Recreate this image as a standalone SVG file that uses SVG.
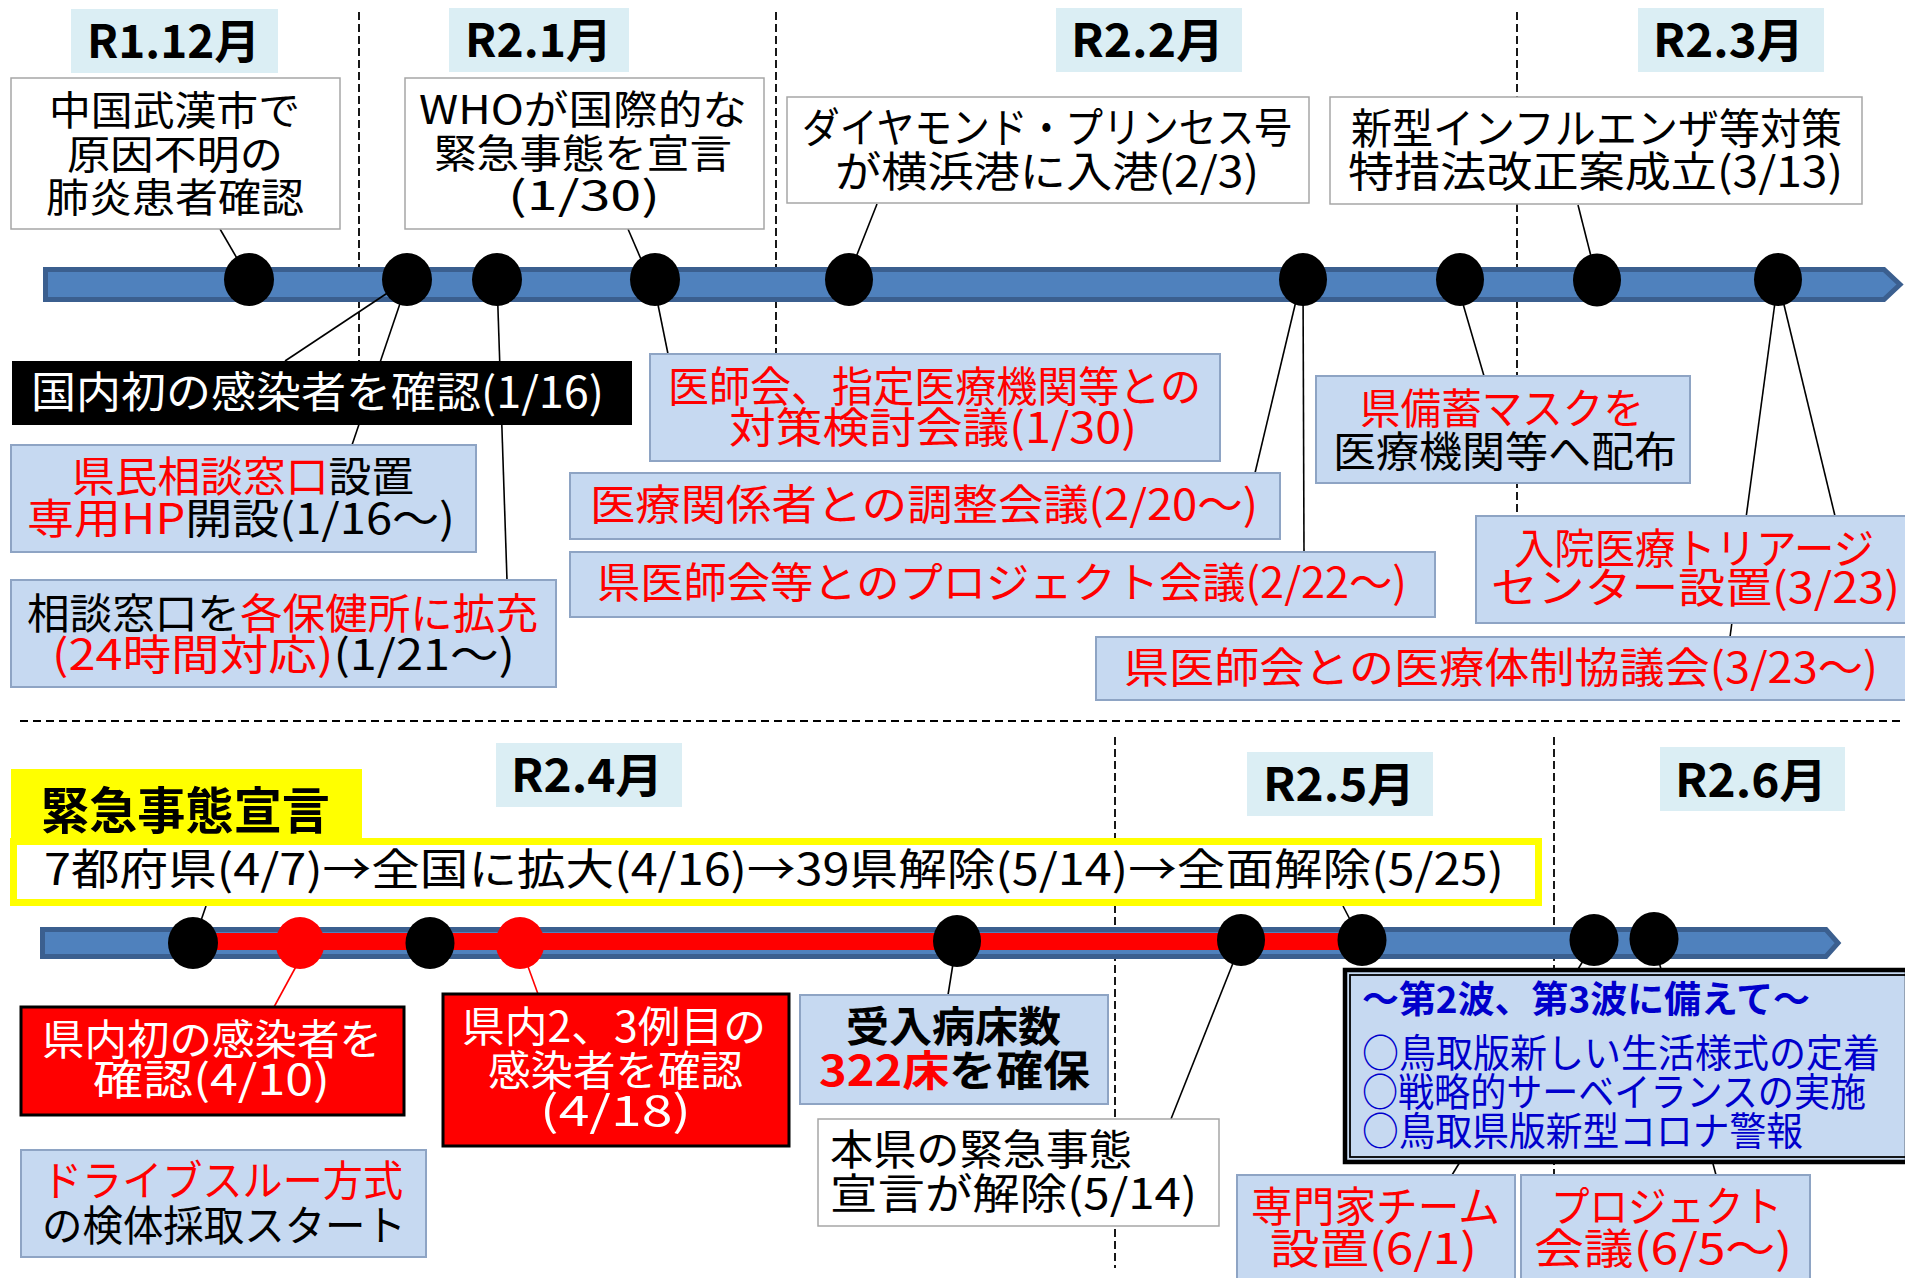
<svg xmlns="http://www.w3.org/2000/svg" width="1905" height="1278" viewBox="0 0 1905 1278">
<style>
text{font-family:"Noto Sans CJK JP","Noto Sans",sans-serif;font-size:42px;fill:#000}
.t40{font-size:40px}
.b{font-weight:bold}
.mon{font-size:46px;font-weight:bold}
.r{fill:#FF0000}
.w{fill:#FFFFFF}
.bl{fill:#0000CC}
.mbg{fill:#DBEEF4}
.wbox{fill:#FFFFFF;stroke:#A6A6A6;stroke-width:1.5}
.lbox{fill:#C6D9F1;stroke:#8EA4C4;stroke-width:2}
.rbox{fill:#FF0000;stroke:#000;stroke-width:3}
.dash{stroke:#000;stroke-width:1.8;stroke-dasharray:8 4;fill:none}
.con{stroke:#000;stroke-width:1.6;fill:none}
.rcon{stroke:#FF0000;stroke-width:1.6;fill:none}
.bar{fill:#4F81BD;stroke:#3B5F8F;stroke-width:5;stroke-linejoin:miter}
.dot{fill:#000}
.rdot{fill:#FF0000}
</style>

<g id="guides">
<line class="dash" x1="359" y1="12" x2="359" y2="361"/>
<line class="dash" x1="776" y1="12" x2="776" y2="354"/>
<line class="dash" x1="1517" y1="12" x2="1517" y2="520"/>
<line class="dash" x1="20" y1="721" x2="1905" y2="721" style="stroke-dasharray:8 5"/>
<line class="dash" x1="1115" y1="737" x2="1115" y2="1268"/>
<line class="dash" x1="1554" y1="737" x2="1554" y2="1278"/>
</g>

<g id="months">
<rect class="mbg" x="71" y="9" width="207" height="64"/>
<text class="mon" x="87" y="58" textLength="173" lengthAdjust="spacingAndGlyphs">R1.12月</text>
<rect class="mbg" x="449" y="8" width="180" height="64"/>
<text class="mon" x="465" y="57" textLength="147" lengthAdjust="spacingAndGlyphs">R2.1月</text>
<rect class="mbg" x="1056" y="8" width="186" height="64"/>
<text class="mon" x="1071" y="57" textLength="153" lengthAdjust="spacingAndGlyphs">R2.2月</text>
<rect class="mbg" x="1638" y="8" width="186" height="64"/>
<text class="mon" x="1653" y="57" textLength="151" lengthAdjust="spacingAndGlyphs">R2.3月</text>
<rect class="mbg" x="496" y="743" width="186" height="64"/>
<text class="mon" x="511" y="792" textLength="152" lengthAdjust="spacingAndGlyphs">R2.4月</text>
<rect class="mbg" x="1247" y="752" width="186" height="64"/>
<text class="mon" x="1263" y="801" textLength="152" lengthAdjust="spacingAndGlyphs">R2.5月</text>
<rect class="mbg" x="1660" y="747" width="185" height="64"/>
<text class="mon" x="1675" y="797" textLength="152" lengthAdjust="spacingAndGlyphs">R2.6月</text>
</g>

<g id="timeline-top">
<polygon class="bar" points="45.5,269.5 1884,269.5 1900,284.5 1884,299.5 45.5,299.5"/>
</g>
<g id="timeline-bottom">
<polygon class="bar" points="42.5,929.5 1826,929.5 1838,943 1826,956.5 42.5,956.5"/>
<rect x="194" y="933" width="1168" height="17" fill="#FF0000"/>
</g>

<g id="connectors">
<line class="con" x1="220" y1="229" x2="249" y2="279"/>
<line class="con" x1="628" y1="229" x2="650" y2="280"/>
<line class="con" x1="407" y1="280" x2="285" y2="361"/>
<line class="con" x1="408" y1="280" x2="352" y2="445"/>
<line class="con" x1="497" y1="280" x2="507" y2="580"/>
<line class="con" x1="653" y1="280" x2="668" y2="354"/>
<line class="con" x1="877" y1="204" x2="847" y2="280"/>
<line class="con" x1="1301" y1="280" x2="1255" y2="473"/>
<line class="con" x1="1303" y1="280" x2="1304" y2="552"/>
<line class="con" x1="1456" y1="280" x2="1484" y2="376"/>
<line class="con" x1="1578" y1="205" x2="1597" y2="280"/>
<line class="con" x1="1778" y1="280" x2="1730" y2="637"/>
<line class="con" x1="1778" y1="280" x2="1835" y2="516"/>
<line class="con" x1="196" y1="935" x2="206" y2="906"/>
<line class="rcon" x1="305" y1="950" x2="274" y2="1007"/>
<line class="rcon" x1="522" y1="950" x2="538" y2="994"/>
<line class="con" x1="956" y1="945" x2="948" y2="995"/>
<line class="con" x1="1241" y1="943" x2="1171" y2="1119"/>
<line class="con" x1="1358" y1="935" x2="1343" y2="906"/>
<line class="con" x1="1594" y1="943" x2="1452" y2="1175"/>
<line class="con" x1="1654" y1="943" x2="1716" y2="1175"/>
</g>

<g id="dots">
<ellipse class="dot" cx="249" cy="279.5" rx="25" ry="26.5"/>
<ellipse class="dot" cx="407" cy="279.5" rx="25" ry="26.5"/>
<ellipse class="dot" cx="497" cy="279.5" rx="25" ry="26.5"/>
<ellipse class="dot" cx="655" cy="279.5" rx="25" ry="26.5"/>
<ellipse class="dot" cx="849" cy="279.5" rx="24" ry="26.5"/>
<ellipse class="dot" cx="1303" cy="279.5" rx="24" ry="26.5"/>
<ellipse class="dot" cx="1460" cy="279.5" rx="24" ry="26.5"/>
<ellipse class="dot" cx="1597" cy="280" rx="24" ry="26.5"/>
<ellipse class="dot" cx="1778" cy="279.5" rx="24" ry="26.5"/>
<ellipse class="dot" cx="193" cy="943" rx="25" ry="26"/>
<ellipse class="rdot" cx="300" cy="943" rx="24.5" ry="26"/>
<ellipse class="dot" cx="430" cy="943" rx="24.5" ry="26"/>
<ellipse class="rdot" cx="520" cy="943" rx="24.5" ry="26"/>
<ellipse class="dot" cx="957" cy="941" rx="24" ry="26"/>
<ellipse class="dot" cx="1241" cy="940" rx="24" ry="26"/>
<ellipse class="dot" cx="1362" cy="940" rx="24.5" ry="26"/>
<ellipse class="dot" cx="1594" cy="940" rx="24.5" ry="26"/>
<ellipse class="dot" cx="1654" cy="939" rx="24.5" ry="27"/>
</g>

<g id="n-wuhan">
<rect class="wbox" x="11" y="78" width="329" height="151"/>
<text class="t40" x="49" y="125" textLength="251" lengthAdjust="spacingAndGlyphs">中国武漢市で</text>
<text class="t40" x="67" y="169" textLength="216" lengthAdjust="spacingAndGlyphs">原因不明の</text>
<text class="t40" x="46" y="212" textLength="258" lengthAdjust="spacingAndGlyphs">肺炎患者確認</text>
</g>
<g id="n-who">
<rect class="wbox" x="405" y="78" width="359" height="151"/>
<text class="t40" x="419" y="124" textLength="328" lengthAdjust="spacingAndGlyphs">WHOが国際的な</text>
<text class="t40" x="434" y="168" textLength="298" lengthAdjust="spacingAndGlyphs">緊急事態を宣言</text>
<text class="t40" x="508" y="210" textLength="152" lengthAdjust="spacingAndGlyphs">(1/30)</text>
</g>
<g id="n-diamond">
<rect class="wbox" x="787" y="97" width="522" height="106"/>
<text x="802" y="143" textLength="490" lengthAdjust="spacingAndGlyphs">ダイヤモンド・プリンセス号</text>
<text x="835" y="187" textLength="424" lengthAdjust="spacingAndGlyphs">が横浜港に入港(2/3)</text>
</g>
<g id="n-law">
<rect class="wbox" x="1330" y="97" width="532" height="107"/>
<text x="1351" y="144" textLength="491" lengthAdjust="spacingAndGlyphs">新型インフルエンザ等対策</text>
<text x="1348" y="187" textLength="495" lengthAdjust="spacingAndGlyphs">特措法改正案成立(3/13)</text>
</g>

<g id="n-first-domestic">
<rect x="12" y="361" width="620" height="64" fill="#000"/>
<text class="w" x="31" y="408" style="font-size:43px" textLength="573" lengthAdjust="spacingAndGlyphs">国内初の感染者を確認(1/16)</text>
</g>
<g id="n-consult">
<rect class="lbox" x="11" y="445" width="465" height="107"/>
<text x="72" y="492" textLength="342" lengthAdjust="spacingAndGlyphs"><tspan class="r">県民相談窓口</tspan>設置</text>
<text x="27" y="534" textLength="428" lengthAdjust="spacingAndGlyphs"><tspan class="r">専用HP</tspan>開設(1/16～)</text>
</g>
<g id="n-expand">
<rect class="lbox" x="11" y="580" width="545" height="107"/>
<text x="27" y="629" textLength="511" lengthAdjust="spacingAndGlyphs">相談窓口を<tspan class="r">各保健所に拡充</tspan></text>
<text x="52" y="670" textLength="463" lengthAdjust="spacingAndGlyphs"><tspan class="r">(24時間対応)</tspan>(1/21～)</text>
</g>
<g id="n-ishikai">
<rect class="lbox" x="650" y="354" width="570" height="107"/>
<text class="r" x="668" y="402" textLength="533" lengthAdjust="spacingAndGlyphs">医師会、指定医療機関等との</text>
<text class="r" x="729" y="443" textLength="408" lengthAdjust="spacingAndGlyphs">対策検討会議(1/30)</text>
</g>
<g id="n-chosei">
<rect class="lbox" x="570" y="473" width="710" height="66"/>
<text class="r" x="590" y="520" textLength="668" lengthAdjust="spacingAndGlyphs">医療関係者との調整会議(2/20～)</text>
</g>
<g id="n-project">
<rect class="lbox" x="570" y="552" width="865" height="65"/>
<text class="r" x="597" y="598" textLength="810" lengthAdjust="spacingAndGlyphs">県医師会等とのプロジェクト会議(2/22～)</text>
</g>
<g id="n-mask">
<rect class="lbox" x="1316" y="376" width="374" height="107"/>
<text class="r" x="1360" y="424" textLength="284" lengthAdjust="spacingAndGlyphs">県備蓄マスクを</text>
<text x="1333" y="467" textLength="344" lengthAdjust="spacingAndGlyphs">医療機関等へ配布</text>
</g>
<g id="n-triage">
<rect class="lbox" x="1476" y="516" width="430" height="107"/>
<text class="r" x="1514" y="564" textLength="360" lengthAdjust="spacingAndGlyphs">入院医療トリアージ</text>
<text class="r" x="1491" y="603" textLength="409" lengthAdjust="spacingAndGlyphs">センター設置(3/23)</text>
</g>
<g id="n-kyogikai">
<rect class="lbox" x="1096" y="637" width="810" height="63"/>
<text class="r" x="1124" y="683" textLength="754" lengthAdjust="spacingAndGlyphs">県医師会との医療体制協議会(3/23～)</text>
</g>

<g id="n-emergency">
<rect x="11" y="769" width="351" height="78" fill="#FFFF00"/>
<text class="b" x="41" y="829" style="font-size:50px" textLength="289" lengthAdjust="spacingAndGlyphs">緊急事態宣言</text>
<rect x="13.5" y="841.5" width="1525" height="61" fill="#FFFFFF" stroke="#FFFF00" stroke-width="7"/>
<text x="44" y="885" style="font-size:43px" textLength="1460" lengthAdjust="spacingAndGlyphs">7都府県(4/7)→全国に拡大(4/16)→39県解除(5/14)→全面解除(5/25)</text>
</g>
<g id="n-pref-first">
<rect class="rbox" x="21" y="1007" width="383" height="108"/>
<text class="w" x="42" y="1055" textLength="340" lengthAdjust="spacingAndGlyphs">県内初の感染者を</text>
<text class="w" x="93" y="1095" textLength="237" lengthAdjust="spacingAndGlyphs">確認(4/10)</text>
</g>
<g id="n-pref-23">
<rect class="rbox" x="443" y="994" width="346" height="152"/>
<text class="w" x="462" y="1042" textLength="304" lengthAdjust="spacingAndGlyphs">県内2、3例目の</text>
<text class="w" x="488" y="1086" textLength="255" lengthAdjust="spacingAndGlyphs">感染者を確認</text>
<text class="w" x="540" y="1126" textLength="151" lengthAdjust="spacingAndGlyphs">(4/18)</text>
</g>
<g id="n-drive">
<rect class="lbox" x="21" y="1150" width="405" height="107"/>
<text class="r" x="42" y="1196" textLength="361" lengthAdjust="spacingAndGlyphs">ドライブスルー方式</text>
<text x="42" y="1241" textLength="364" lengthAdjust="spacingAndGlyphs">の検体採取スタート</text>
</g>
<g id="n-beds">
<rect class="lbox" x="800" y="995" width="308" height="109"/>
<text class="b" x="846" y="1042" textLength="215" lengthAdjust="spacingAndGlyphs">受入病床数</text>
<text class="b" x="819" y="1086" textLength="271" lengthAdjust="spacingAndGlyphs"><tspan class="r">322床</tspan>を確保</text>
</g>
<g id="n-lift">
<rect class="wbox" x="818" y="1119" width="401" height="107"/>
<text x="830" y="1165" textLength="302" lengthAdjust="spacingAndGlyphs">本県の緊急事態</text>
<text x="830" y="1209" textLength="367" lengthAdjust="spacingAndGlyphs">宣言が解除(5/14)</text>
</g>
<g id="n-wave">
<rect x="1345" y="970" width="562" height="192" fill="#C6D9F1" stroke="#000" stroke-width="4.5"/>
<rect x="1350" y="975" width="560" height="182" fill="none" stroke="#000" stroke-width="1.8"/>
<text class="bl b" x="1362" y="1013" style="font-size:37px" textLength="448" lengthAdjust="spacingAndGlyphs">～第2波、第3波に備えて～</text>
<text class="bl" x="1362" y="1067" style="font-size:39px" textLength="518" lengthAdjust="spacingAndGlyphs">○鳥取版新しい生活様式の定着</text>
<text class="bl" x="1362" y="1106" style="font-size:39px" textLength="504" lengthAdjust="spacingAndGlyphs">○戦略的サーベイランスの実施</text>
<text class="bl" x="1362" y="1145" style="font-size:39px" textLength="441" lengthAdjust="spacingAndGlyphs">○鳥取県版新型コロナ警報</text>
</g>
<g id="n-experts">
<rect class="lbox" x="1237" y="1175" width="278" height="110"/>
<text class="r" x="1251" y="1222" textLength="249" lengthAdjust="spacingAndGlyphs">専門家チーム</text>
<text class="r" x="1270" y="1264" textLength="207" lengthAdjust="spacingAndGlyphs">設置(6/1)</text>
</g>
<g id="n-project-jun">
<rect class="lbox" x="1521" y="1175" width="289" height="110"/>
<text class="r" x="1551" y="1222" textLength="231" lengthAdjust="spacingAndGlyphs">プロジェクト</text>
<text class="r" x="1534" y="1264" textLength="258" lengthAdjust="spacingAndGlyphs">会議(6/5～)</text>
</g>
</svg>
